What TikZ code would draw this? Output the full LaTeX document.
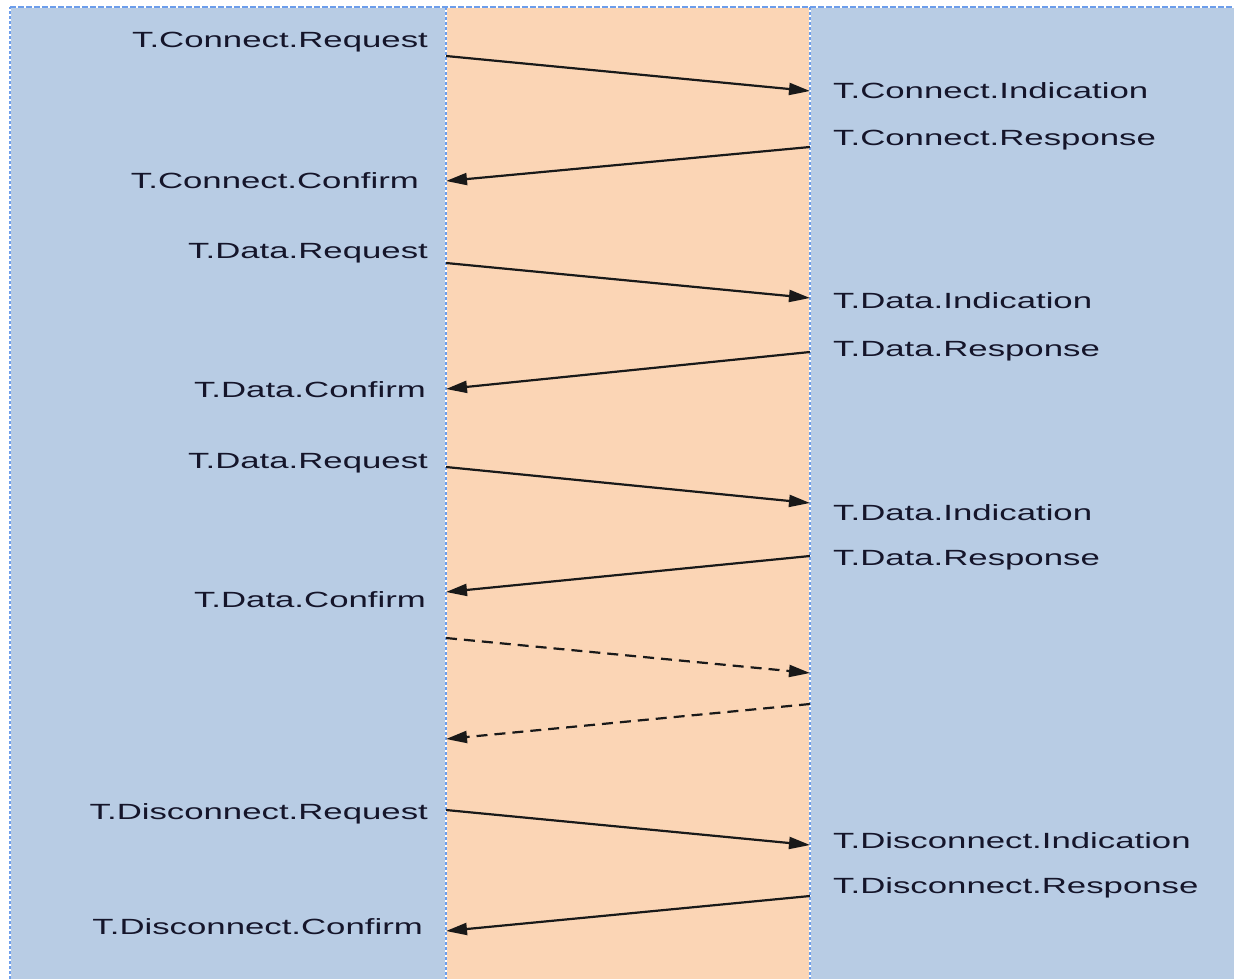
\documentclass[tikz,border=0pt]{standalone}
\usepackage{fontspec}
\usepackage{graphicx}
\setmainfont{Liberation Sans}
\usetikzlibrary{arrows.meta}
\definecolor{lane}{HTML}{B8CCE4}
\definecolor{mid}{HTML}{FBD5B5}
\definecolor{bord}{HTML}{6D9EEB}
\definecolor{txt}{HTML}{15152A}
\tikzset{
  lbl/.style={inner sep=0pt, text=txt, font=\fontsize{22}{26}\selectfont},
  lleft/.style={lbl, anchor=base east},
  lright/.style={lbl, anchor=base west},
  msg/.style={line width=2.2pt, black!90, -{Triangle[length=21pt,width=12pt]}},
  dmsg/.style={msg, dash pattern=on 11pt off 7pt},
  laneunder/.style={white, line width=2pt},
  lanebord/.style={bord, line width=2pt, dash pattern=on 3pt off 2pt}
}
\newcommand{\wide}[1]{\scalebox{1.58}[1]{#1}}
\begin{document}
\begin{tikzpicture}[x=1pt,y=-1pt]
\useasboundingbox (0,0) rectangle (1234,979);
\fill[white] (0,0) rectangle (1234,979);
\fill[lane] (10,7) rectangle (446,979);
\fill[mid] (446,7) rectangle (810,979);
\fill[lane] (810,7) rectangle (1234,979);
\draw[laneunder] (10,979) -- (10,7) -- (1234,7);
\draw[laneunder] (446,7) -- (446,979);
\draw[laneunder] (810,7) -- (810,979);
\draw[lanebord] (10,979) -- (10,7);
\draw[bord, line width=2pt, dash pattern=on 6pt off 2pt] (10,7) -- (1234,7);
\draw[lanebord] (446,7) -- (446,979);
\draw[lanebord] (810,7) -- (810,979);

% endpoints
\coordinate (a1) at (446,56);  \coordinate (b1) at (810,91);
\coordinate (b2) at (810,147); \coordinate (a2) at (446,181);
\coordinate (a3) at (446,263); \coordinate (b3) at (810,298);
\coordinate (b4) at (810,352); \coordinate (a4) at (446,389);
\coordinate (a5) at (446,467); \coordinate (b5) at (810,503);
\coordinate (b6) at (810,556); \coordinate (a6) at (446,592);
\coordinate (a7) at (446,638); \coordinate (b7) at (810,673);
\coordinate (b8) at (810,704); \coordinate (a8) at (446,739);
\coordinate (a9) at (446,810); \coordinate (b9) at (810,845);
\coordinate (b10) at (810,896); \coordinate (a10) at (446,931);

\draw[msg] (a1) -- (b1);
\draw[msg] (b2) -- (a2);
\draw[msg] (a3) -- (b3);
\draw[msg] (b4) -- (a4);
\draw[msg] (a5) -- (b5);
\draw[msg] (b6) -- (a6);
\draw[dmsg] (a7) -- (b7);
\draw[dmsg] (b8) -- (a8);
\draw[msg] (a9) -- (b9);
\draw[msg] (b10) -- (a10);

% labels
\node[lleft] (l1) at (428,48) {\wide{T.Connect.Request}};
\node[lright] (r1) at (833,99) {\wide{T.Connect.Indication}};
\node[lright] (r2) at (833,146) {\wide{T.Connect.Response}};
\node[lleft] (l2) at (419,188) {\wide{T.Connect.Confirm}};
\node[lleft] (l3) at (428,258) {\wide{T.Data.Request}};
\node[lright] (r3) at (833,308) {\wide{T.Data.Indication}};
\node[lright] (r4) at (833,356) {\wide{T.Data.Response}};
\node[lleft] (l4) at (426,397) {\wide{T.Data.Confirm}};
\node[lleft] (l5) at (428,468) {\wide{T.Data.Request}};
\node[lright] (r5) at (833,520) {\wide{T.Data.Indication}};
\node[lright] (r6) at (833,565) {\wide{T.Data.Response}};
\node[lleft] (l6) at (426,607) {\wide{T.Data.Confirm}};
\node[lleft] (l9) at (428,819) {\wide{T.Disconnect.Request}};
\node[lright] (r9) at (833,848) {\wide{T.Disconnect.Indication}};
\node[lright] (r10) at (833,893) {\wide{T.Disconnect.Response}};
\node[lleft] (l10) at (423,934) {\wide{T.Disconnect.Confirm}};
\end{tikzpicture}
\end{document}
